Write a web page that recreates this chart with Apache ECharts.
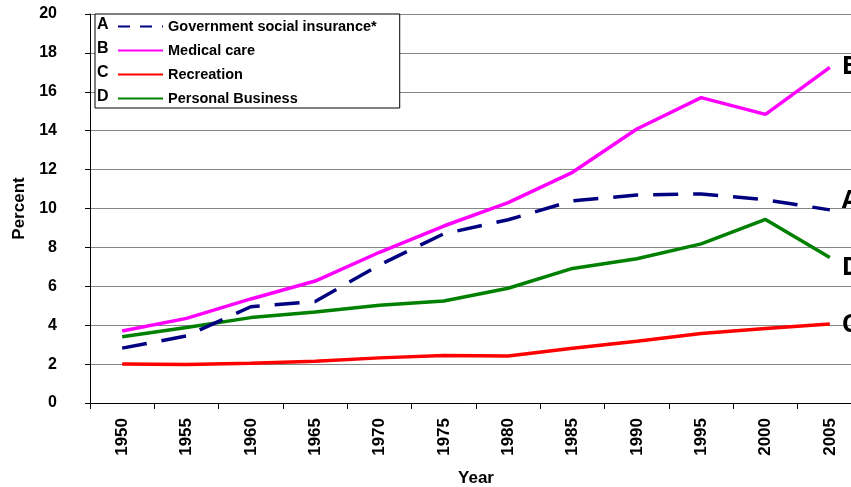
<!DOCTYPE html>
<html>
<head>
<meta charset="utf-8">
<style>
  html, body { margin: 0; padding: 0; background: #fff; }
  #chart { width: 851px; height: 487px; }
</style>
<script src="https://cdn.jsdelivr.net/npm/echarts@6/dist/echarts.min.js"></script>
</head>
<body>
<div id="chart"></div>
<script>
// Share of personal consumption spending by category, 1950-2005
const years = ['1950','1955','1960','1965','1970','1975','1980','1985','1990','1995','2000','2005'];
const govSocialInsurance = [2.82, 3.45, 4.95, 5.22, 7.1, 8.7, 9.42, 10.4, 10.69, 10.75, 10.45, 9.93];
const medicalCare        = [3.70, 4.35, 5.35, 6.27, 7.75, 9.1, 10.3, 11.86, 14.09, 15.7, 14.84, 17.26];
const recreation         = [2.0, 1.98, 2.04, 2.15, 2.32, 2.44, 2.42, 2.81, 3.18, 3.57, 3.83, 4.06];
const personalBusiness   = [3.41, 3.88, 4.39, 4.68, 5.03, 5.24, 5.9, 6.92, 7.42, 8.18, 9.44, 7.48];
const seriesNames = ['Government social insurance*', 'Medical care', 'Recreation', 'Personal Business'];
const seriesKeys = ['A', 'B', 'C', 'D'];
const yTicks = { min: 0, max: 20, step: 2 };

const FONT = '"Liberation Sans", Arial, sans-serif';
const chart = echarts.init(document.getElementById('chart'), null, { renderer: 'canvas' });

function endLabel(letter, dy) {
  return {
    show: true,
    formatter: letter,
    distance: 12,
    offset: [0, dy],
    color: '#000',
    fontFamily: '"Open Sans", "Liberation Sans", sans-serif',
    fontWeight: 'bold',
    fontSize: 25
  };
}

function lineSeries(name, data, color, letter, dy, dashed) {
  return {
    name: name,
    type: 'line',
    data: data,
    symbol: 'none',
    smooth: false,
    lineStyle: { color: color, width: 3.5, type: dashed ? [25, 15] : 'solid', cap: 'butt' },
    itemStyle: { color: color },
    endLabel: endLabel(letter, dy),
    emphasis: { disabled: true },
    animation: false
  };
}

const option = {
  animation: false,
  backgroundColor: '#fff',
  textStyle: { fontFamily: FONT },
  grid: { left: 90, top: 14, width: 772, height: 389, containLabel: false, outerBoundsMode: 'none' },
  legend: {
    data: seriesNames.map((n, i) => i === 0
      ? { name: n, lineStyle: { type: [12, 10] } }
      : { name: n }),
    orient: 'vertical',
    left: 95,
    top: 14,
    itemWidth: 45,
    itemHeight: 14,
    itemGap: 9,
    padding: [5, 23, 2, 22],
    backgroundColor: '#fff',
    borderColor: '#000',
    borderWidth: 1,
    borderRadius: 0,
    selectedMode: false,
    itemStyle: { color: 'transparent', borderWidth: 0, opacity: 0 },
    textStyle: { color: '#000', fontWeight: 'bold', fontSize: 14.5, fontFamily: FONT }
  },
  graphic: seriesKeys.map((k, i) => ({
    type: 'text',
    x: 97,
    y: 25 + i * 24,
    z: 100,
    style: { text: k, fill: '#000', font: 'bold 16px ' + FONT, verticalAlign: 'middle' }
  })),
  xAxis: {
    type: 'category',
    data: years,
    boundaryGap: true,
    name: 'Year',
    nameLocation: 'middle',
    nameGap: 67,
    nameTextStyle: { color: '#000', fontWeight: 'bold', fontSize: 17, fontFamily: FONT },
    axisLine: { show: true, lineStyle: { color: '#000', width: 1 } },
    axisTick: { show: true, length: 6, lineStyle: { color: '#000' } },
    axisLabel: { rotate: 90, margin: 15, color: '#000', fontWeight: 'bold', fontSize: 17, fontFamily: FONT, interval: 0 },
    splitLine: { show: false }
  },
  yAxis: {
    type: 'value',
    min: yTicks.min,
    max: yTicks.max,
    interval: yTicks.step,
    name: 'Percent',
    nameLocation: 'middle',
    nameGap: 62,
    nameRotate: 90,
    nameTextStyle: { color: '#000', fontWeight: 'bold', fontSize: 17, fontFamily: FONT },
    axisLine: { show: true, lineStyle: { color: '#000', width: 1 } },
    axisTick: { show: true, length: 5, lineStyle: { color: '#000' } },
    axisLabel: { margin: 33, color: '#000', fontWeight: 'bold', fontSize: 16, fontFamily: FONT },
    splitLine: { show: true, lineStyle: { color: '#858585', width: 1 } }
  },
  series: [
    lineSeries(seriesNames[3], personalBusiness, '#008000', 'D', 10, false),
    lineSeries(seriesNames[2], recreation, '#ff0000', 'C', 1, false),
    lineSeries(seriesNames[1], medicalCare, '#ff00ff', 'B', 0, false),
    lineSeries(seriesNames[0], govSocialInsurance, '#000080', 'A', -9, true)
  ]
};

chart.setOption(option);
</script>
</body>
</html>
